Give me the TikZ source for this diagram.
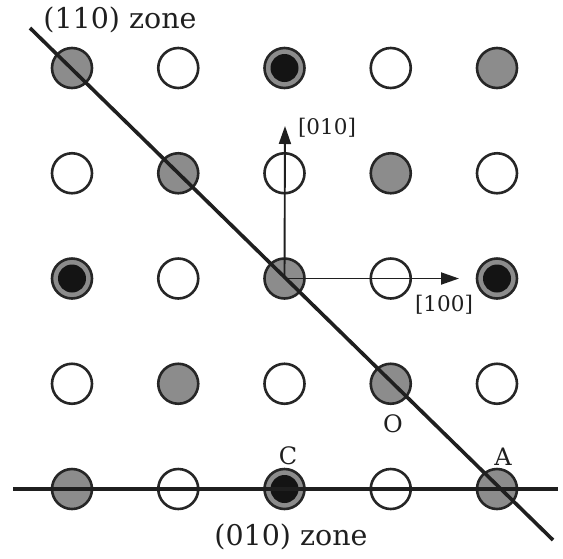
\documentclass[tikz,border=0pt]{standalone}
\usepackage{fontspec}
\setmainfont{DejaVu Serif}
\usetikzlibrary{arrows.meta}
\begin{document}
\begin{tikzpicture}[x=1pt,y=-1pt,
  site/.style={circle, minimum size=40pt, inner sep=0pt, line width=2.6pt, draw=black!85},
  vacant/.style={site, fill=white},
  shaded/.style={site, fill=black!45},
  cored/.style={shaded, path picture={\fill[black!92] (path picture bounding box.center) circle (14pt);}},
  zone/.style={line width=3.6pt, draw=black!88},
  axis/.style={line width=1.9pt, draw=black!88, -{Triangle[length=18pt,width=12pt]}},
  biglbl/.style={font=\fontsize{28.5}{32}\selectfont, text=black!88, inner sep=0pt},
  dirlbl/.style={font=\fontsize{21.5}{26}\selectfont, text=black!88, inner sep=0pt},
  ptlbl/.style={font=\fontsize{24}{28}\selectfont, text=black!88, inner sep=0pt}]
\useasboundingbox (0,0) rectangle (563,558);

% lattice sites: row by row, left to right
\foreach \kind [count=\i from 0] in {shaded,vacant,cored,vacant,shaded,
                                     vacant,shaded,vacant,shaded,vacant,
                                     cored,vacant,shaded,vacant,cored,
                                     vacant,shaded,vacant,shaded,vacant,
                                     shaded,vacant,cored,vacant,shaded}{
  \pgfmathtruncatemacro{\r}{int(\i/5)+1}
  \pgfmathtruncatemacro{\c}{mod(\i,5)+1}
  \pgfmathsetmacro{\px}{72+106.25*(\c-1)}
  \pgfmathsetmacro{\py}{68+105.25*(\r-1)}
  \node[\kind] (n\r\c) at (\px,\py) {};
}

% zone axes
\coordinate (d1) at (30,28);
\coordinate (d2) at (553,540);
\coordinate (h1) at (13,489);
\coordinate (h2) at (558,489);
\draw[zone] (d1) -- (d2);
\draw[zone] (h1) -- (h2);

% crystal directions from the central site
\coordinate (up) at (285,126);
\coordinate (right) at (459,278.5);
\draw[axis] (n33.center) -- (up);
\draw[axis] (n33.center) -- (right);

% labels
\node[biglbl] (z110) at (120,20) {(110) zone};
\node[biglbl] (z010) at (291,537) {(010) zone};
\node[dirlbl] (l010) at (327,128) {[010]};
\node[dirlbl] (l100) at (444,305) {[100]};
\node[ptlbl] (lO) at (393,424) {O};
\node[ptlbl] (lC) at (288,456) {C};
\node[ptlbl] (lA) at (503,457) {A};
\end{tikzpicture}
\end{document}
